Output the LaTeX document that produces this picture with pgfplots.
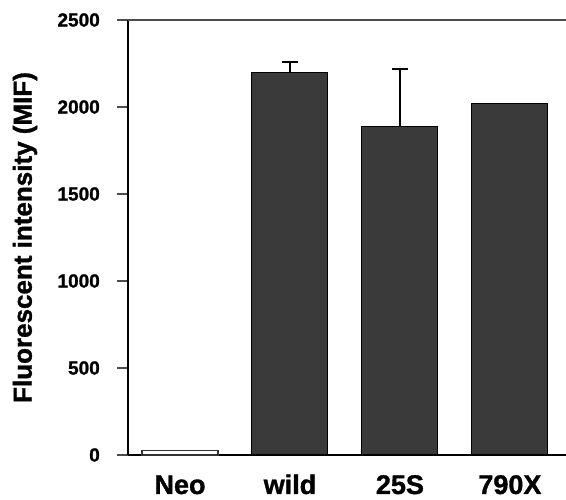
\documentclass[border=0pt]{standalone}
\usepackage{pgfplots}
\pgfplotsset{compat=1.18}
\usepackage{pgfplotstable}
\usepackage{fontspec}
\setmainfont{Liberation Sans}[BoldFeatures={FakeBold=1.2}]

\definecolor{bargray}{HTML}{3A3A3A}

% control
\pgfplotstableread{
x  y
0  25
}\neodata

% transfectants with error
\pgfplotstableread{
x  y     err
1  2200  60
2  1890  330
}\mifdata

% no error bar drawn
\pgfplotstableread{
x  y
3  2020
}\mifnoerr

\begin{document}
\begin{tikzpicture}
\path[use as bounding box] (0,0) rectangle (566pt,500pt);
\begin{axis}[
    at={(128pt,45pt)}, anchor=south west,
    scale only axis,
    width=438pt, height=435pt,
    xmin=-0.473, xmax=3.51,
    ymin=0, ymax=2500,
    axis x line*=bottom,
    axis y line*=left,
    axis line style={line width=1.8pt, black, -},
    ytick={0,500,1000,1500,2000,2500},
    tick align=outside,
    major tick length=11pt,
    ytick style={line width=1.2pt, black!70},
    xtick={0,1,2,3},
    xticklabels={Neo,wild,25S,790X},
    xtick style={draw=none},
    xticklabel style={font=\fontsize{27}{27}\selectfont\bfseries, anchor=base, inner sep=0pt, yshift=-28pt},
    yticklabel style={font=\fontsize{19}{19}\selectfont\bfseries, anchor=east, inner sep=0pt, xshift=-17pt},
    /pgf/number format/assume math mode=true,
    scaled y ticks=false,
    yticklabel={\pgfmathprintnumber[fixed,1000 sep={}]{\tick}},
    ylabel={\bfseries Fluorescent intensity (MIF)},
    ylabel style={font=\fontsize{26}{26}\selectfont, at={(rel axis cs:0,0.5)}, anchor=center, yshift=103pt},
    ybar, bar width=76pt,
    clip=false,
]
\addplot[draw=black!80, fill=white, line width=1.5pt, bar shift=0pt]
    table[x=x, y=y] {\neodata};
\addplot[draw=black, fill=bargray, line width=1pt, bar shift=0pt,
    error bars/.cd, y dir=plus, y explicit,
    error bar style={line width=2pt, black},
    error mark options={rotate=90, mark size=8pt, line width=2pt, black}]
    table[x=x, y=y, y error=err] {\mifdata};
\addplot[draw=black, fill=bargray, line width=1pt, bar shift=0pt]
    table[x=x, y=y] {\mifnoerr};
\draw[line width=1.2pt, black!70] (rel axis cs:0,1) -- (rel axis cs:1,1);
\end{axis}
\end{tikzpicture}
\end{document}
